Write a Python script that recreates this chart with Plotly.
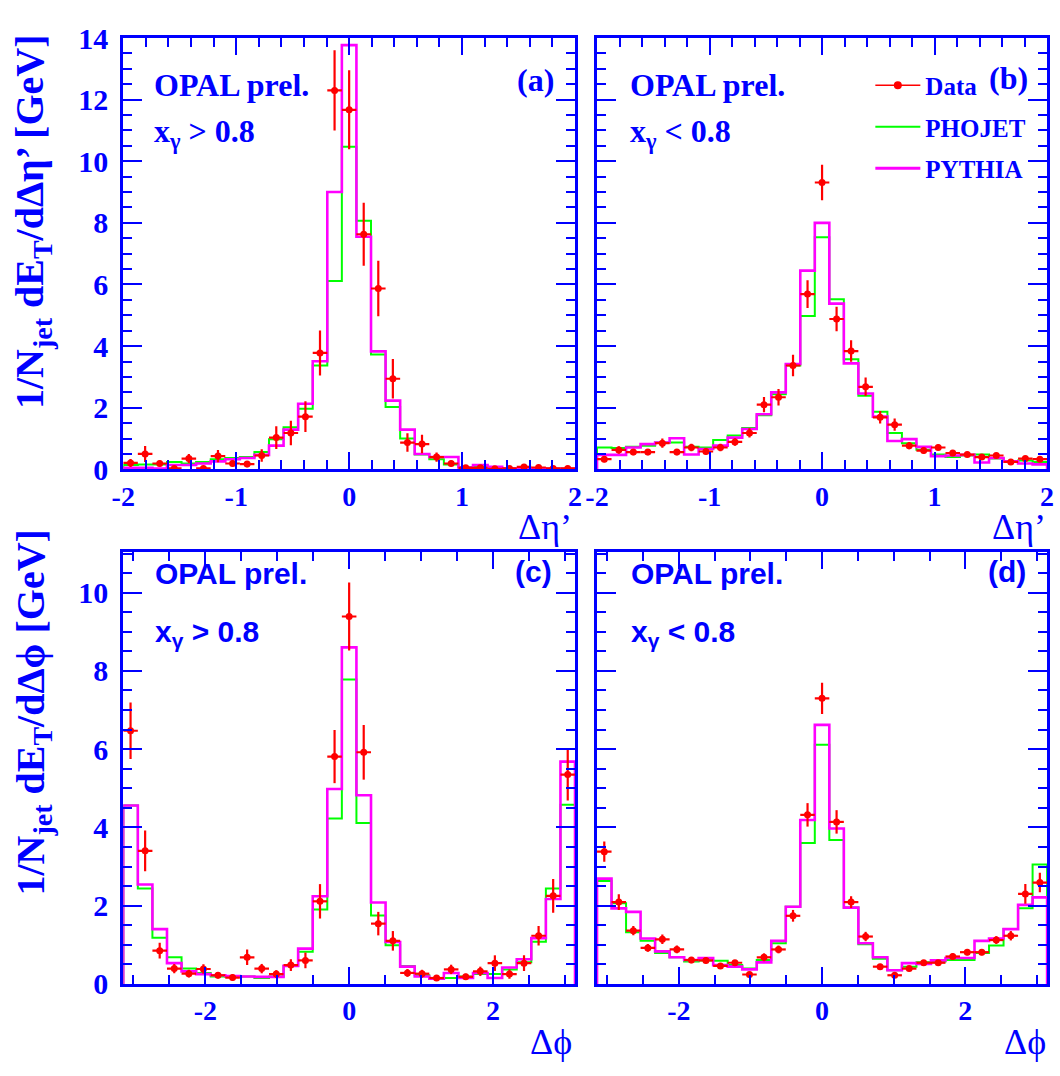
import numpy as np
import plotly.graph_objects as go

W, H = 1060, 1076
NBINS = 31
ETA_RANGE = (-2.0, 2.0)
PHI_RANGE = (-np.pi, np.pi)

# ---------------- data ----------------
# (a) delta eta', x_gamma > 0.8
a_data = [0.21, 0.50, 0.19, 0.03, 0.35, 0.03, 0.43, 0.19, 0.17, 0.45, 1.03, 1.18, 1.71, 3.78, 12.30, 11.67,
          7.63, 5.87, 2.94, 0.87, 0.82, 0.40, 0.19, 0.05, 0.05, 0.02, 0.03, 0.08, 0.06, 0.03, 0.03]
a_err = [0.13, 0.26, 0.10, 0.05, 0.15, 0.05, 0.20, 0.10, 0.10, 0.20, 0.37, 0.40, 0.50, 0.73, 1.30, 1.28,
         1.02, 0.90, 0.64, 0.30, 0.30, 0.15, 0.10, 0.05, 0.04, 0.04, 0.04, 0.04, 0.04, 0.04, 0.04]
a_phojet = [0.14, 0.16, 0.16, 0.24, 0.19, 0.24, 0.33, 0.37, 0.40, 0.56, 0.98, 1.37, 1.97, 3.37, 6.11, 10.47,
            8.07, 3.73, 2.02, 1.00, 0.48, 0.33, 0.16, 0.08, 0.10, 0.03, 0.03, 0.02, 0.02, 0.02, 0.02]
a_pythia = [0.05, 0.05, 0.03, 0.14, 0.14, 0.19, 0.26, 0.33, 0.37, 0.47, 0.77, 1.29, 2.13, 3.51, 9.00, 13.77,
            7.55, 3.83, 2.23, 1.29, 0.50, 0.40, 0.40, 0.06, 0.14, 0.08, 0.03, 0.03, 0.03, 0.02, 0.02]

# (b) delta eta', x_gamma < 0.8
b_data = [0.33, 0.63, 0.56, 0.56, 0.85, 0.56, 0.71, 0.58, 0.71, 0.89, 1.18, 2.10, 2.34, 3.37, 5.69, 9.31,
          4.88, 3.84, 2.68, 1.69, 1.45, 0.77, 0.61, 0.71, 0.53, 0.48, 0.40, 0.45, 0.24, 0.35, 0.33]
b_err = [0.10, 0.12, 0.10, 0.10, 0.15, 0.10, 0.12, 0.10, 0.12, 0.12, 0.15, 0.25, 0.27, 0.35, 0.45, 0.58,
         0.40, 0.35, 0.30, 0.20, 0.20, 0.12, 0.10, 0.10, 0.08, 0.08, 0.08, 0.08, 0.07, 0.07, 0.07]
b_phojet = [0.71, 0.69, 0.73, 0.77, 0.87, 0.87, 0.73, 0.71, 0.95, 1.10, 1.34, 1.76, 2.44, 3.37, 4.98, 7.53,
            5.52, 3.57, 2.39, 1.87, 1.18, 0.85, 0.64, 0.48, 0.40, 0.45, 0.48, 0.35, 0.26, 0.29, 0.24]
b_pythia = [0.47, 0.47, 0.71, 0.82, 0.87, 1.01, 0.48, 0.66, 0.77, 1.03, 1.31, 1.79, 2.50, 3.42, 6.45, 8.00,
            5.38, 3.44, 2.46, 1.71, 0.92, 0.98, 0.73, 0.43, 0.45, 0.47, 0.22, 0.37, 0.26, 0.19, 0.16]

# (c) delta phi, x_gamma > 0.8
c_data = [6.47, 3.40, 0.85, 0.39, 0.26, 0.38, 0.22, 0.16, 0.68, 0.39, 0.25, 0.48, 0.60, 2.11, 5.81, 9.39,
          5.92, 1.54, 1.10, 0.28, 0.26, 0.15, 0.37, 0.18, 0.32, 0.53, 0.25, 0.53, 1.23, 2.25, 5.35]
c_err = [0.72, 0.52, 0.20, 0.12, 0.10, 0.12, 0.08, 0.08, 0.20, 0.12, 0.10, 0.15, 0.20, 0.44, 0.68, 0.87,
         0.70, 0.30, 0.25, 0.10, 0.10, 0.07, 0.12, 0.08, 0.12, 0.20, 0.12, 0.20, 0.25, 0.43, 0.66]
c_phojet = [4.56, 2.44, 1.18, 0.68, 0.39, 0.28, 0.19, 0.18, 0.19, 0.15, 0.19, 0.46, 0.82, 1.90, 4.23, 7.78,
            4.11, 1.75, 0.99, 0.46, 0.22, 0.13, 0.15, 0.19, 0.25, 0.25, 0.37, 0.55, 1.08, 2.44, 4.58]
c_pythia = [4.56, 2.54, 1.40, 0.53, 0.32, 0.25, 0.22, 0.20, 0.19, 0.18, 0.18, 0.46, 0.90, 2.24, 4.98, 8.60,
            4.82, 2.08, 1.07, 0.44, 0.19, 0.13, 0.28, 0.15, 0.28, 0.15, 0.42, 0.63, 1.17, 2.17, 5.68]

# (d) delta phi, x_gamma < 0.8
d_data = [3.38, 2.09, 1.36, 0.92, 1.14, 0.88, 0.61, 0.60, 0.46, 0.54, 0.24, 0.68, 0.88, 1.74, 4.32, 7.30,
          4.14, 2.09, 1.21, 0.44, 0.22, 0.39, 0.54, 0.54, 0.70, 0.81, 0.81, 1.12, 1.23, 2.30, 2.59]
d_err = [0.26, 0.20, 0.12, 0.10, 0.12, 0.10, 0.08, 0.08, 0.07, 0.07, 0.07, 0.10, 0.10, 0.15, 0.30, 0.40,
         0.30, 0.15, 0.12, 0.07, 0.07, 0.07, 0.07, 0.07, 0.08, 0.08, 0.08, 0.10, 0.12, 0.25, 0.25]
d_phojet = [2.63, 2.06, 1.32, 1.10, 0.79, 0.68, 0.57, 0.60, 0.59, 0.48, 0.39, 0.61, 1.04, 1.97, 3.60, 6.11,
            3.68, 1.95, 1.01, 0.64, 0.35, 0.44, 0.55, 0.57, 0.61, 0.61, 0.79, 0.98, 1.40, 1.93, 3.05]
d_pythia = [2.69, 1.93, 1.84, 1.16, 0.83, 0.68, 0.61, 0.66, 0.48, 0.44, 0.37, 0.55, 1.10, 1.97, 4.19, 6.62,
            3.97, 1.95, 1.04, 0.68, 0.35, 0.53, 0.51, 0.60, 0.66, 0.66, 1.10, 1.16, 1.40, 2.02, 2.21]

eta_ticks = [-2, -1, 0, 1, 2]
eta_ticktext = ["-2", "-1", "0", "1", "2"]
phi_ticks = [-2, 0, 2]
phi_ticktext = ["-2", "0", "2"]
eta_yticks = [0, 2, 4, 6, 8, 10, 12, 14]
phi_yticks = [0, 2, 4, 6, 8, 10]

# ---------------- style ----------------
BLUE = "#0000ff"
RED = "#ff0000"
GREEN = "#00ff00"
MAGENTA = "#ff00ff"
SERIF = "Liberation Serif"
SANS = "Liberation Sans"

fig = go.Figure()


def add_panel(idx, rng, data, err, pho, pyt):
    edges = np.linspace(rng[0], rng[1], NBINS + 1)
    centers = 0.5 * (edges[:-1] + edges[1:])
    half = 0.5 * (edges[1] - edges[0])
    sx = "x" if idx == 1 else f"x{idx}"
    sy = "y" if idx == 1 else f"y{idx}"
    for vals, col, lw in ((pho, GREEN, 2.0), (pyt, MAGENTA, 2.6)):
        xs = np.concatenate([[edges[0]], edges, [edges[-1]]])
        ys = np.concatenate([[0.0], vals, [vals[-1]], [0.0]])
        fig.add_trace(go.Scatter(x=xs, y=ys, mode="lines", line=dict(color=col, width=lw, shape="hv"),
                                 xaxis=sx, yaxis=sy, showlegend=False, hoverinfo="skip",
                                 cliponaxis=False))
    fig.add_trace(go.Scatter(x=centers, y=data, mode="markers",
                             marker=dict(color=RED, size=7),
                             error_y=dict(type="data", array=err, color=RED, thickness=2.2, width=0),
                             error_x=dict(type="data", array=[half] * NBINS, color=RED, thickness=2.2, width=0),
                             xaxis=sx, yaxis=sy, showlegend=False))


add_panel(1, ETA_RANGE, a_data, a_err, a_phojet, a_pythia)
add_panel(2, ETA_RANGE, b_data, b_err, b_phojet, b_pythia)
add_panel(3, PHI_RANGE, c_data, c_err, c_phojet, c_pythia)
add_panel(4, PHI_RANGE, d_data, d_err, d_phojet, d_pythia)

# legend entries (shown in panel b)
fig.add_trace(go.Scatter(x=[None], y=[None], mode="lines+markers", name="Data",
                         line=dict(color=RED, width=1.5), marker=dict(color=RED, size=8),
                         xaxis="x2", yaxis="y2", legendgroup="g1"))
fig.add_trace(go.Scatter(x=[None], y=[None], mode="lines", name="PHOJET",
                         line=dict(color=GREEN, width=2), xaxis="x2", yaxis="y2", legendgroup="g2"))
fig.add_trace(go.Scatter(x=[None], y=[None], mode="lines", name="PYTHIA",
                         line=dict(color=MAGENTA, width=3), xaxis="x2", yaxis="y2", legendgroup="g3"))


def px_x(p):
    return p / W


def px_y(p):
    return 1 - p / H


col_l = [px_x(113.3), px_x(573.3)]
col_r = [px_x(595.7), px_x(1054.0)]
row_t = [px_y(467.7), px_y(22.7)]
row_b = [px_y(998.5), px_y(552.5)]


def xax(domain, anchor, rng, tickvals, ticktext, minor_step, show_labels=True):
    return dict(domain=domain, anchor=anchor, range=list(rng),
                tickmode="array", tickvals=tickvals, ticktext=ticktext,
                showticklabels=show_labels, ticks="inside", ticklen=17, tickwidth=1.5, tickcolor=BLUE,
                minor=dict(tickmode="array",
                           tickvals=list(np.round(np.arange(-4, 4.0001, minor_step), 4)),
                           ticks="inside", ticklen=9, tickwidth=1.5, tickcolor=BLUE),
                showline=True, linecolor=BLUE, linewidth=3, mirror="allticks",
                showgrid=False, zeroline=False,
                tickfont=dict(family=SERIF, size=28, color=BLUE, weight="bold"),
                ticklabelstandoff=0)


def yax(domain, anchor, rng, tickvals, show_labels=True):
    return dict(domain=domain, anchor=anchor, range=list(rng),
                tickmode="array", tickvals=tickvals, ticktext=[str(v) for v in tickvals],
                showticklabels=show_labels, ticks="inside", ticklen=19, tickwidth=1.5, tickcolor=BLUE,
                minor=dict(tickmode="array", tickvals=list(np.arange(0, 15.01, 0.5)),
                           ticks="inside", ticklen=9, tickwidth=1.5, tickcolor=BLUE),
                showline=True, linecolor=BLUE, linewidth=3, mirror="allticks",
                showgrid=False, zeroline=False,
                tickfont=dict(family=SERIF, size=30, color=BLUE, weight="bold"),
                ticklabelstandoff=6)


fig.update_layout(
    width=W, height=H, margin=dict(l=0, r=0, t=0, b=0),
    paper_bgcolor="white", plot_bgcolor="white",
    xaxis=xax(col_l, "y", ETA_RANGE, eta_ticks, eta_ticktext, 0.2),
    yaxis=yax(row_t, "x", (0, 14), eta_yticks),
    xaxis2=xax(col_r, "y2", ETA_RANGE, eta_ticks, eta_ticktext, 0.2),
    yaxis2=yax(row_t, "x2", (0, 14), eta_yticks, show_labels=False),
    xaxis3=xax(col_l, "y3", PHI_RANGE, phi_ticks, phi_ticktext, 0.5),
    yaxis3=yax(row_b, "x3", (0, 11.05), phi_yticks),
    xaxis4=xax(col_r, "y4", PHI_RANGE, phi_ticks, phi_ticktext, 0.5),
    yaxis4=yax(row_b, "x4", (0, 11.05), phi_yticks, show_labels=False),
    showlegend=True,
    legend=dict(x=px_x(874), y=px_y(48), xanchor="left", yanchor="top",
                bgcolor="rgba(0,0,0,0)", borderwidth=0, traceorder="grouped", tracegroupgap=6,
                itemwidth=45,
                font=dict(family=SERIF, size=25, color=BLUE, weight="bold")),
)

ann = []


def text(x, y, s, fam, size, xanchor="left", weight="bold", angle=0):
    ann.append(dict(x=px_x(x), y=px_y(y), xref="paper", yref="paper", text=s, showarrow=False,
                    xanchor=xanchor, yanchor="middle", textangle=angle,
                    font=dict(family=fam, size=size, color=BLUE, weight=weight)))


# panel texts
text(143, 71, "OPAL prel.", SERIF, 32)
text(143, 121, "x<sub>γ</sub> > 0.8", SERIF, 32)
text(554, 66, "(a)", SERIF, 32, xanchor="right")
text(627, 71, "OPAL prel.", SERIF, 32)
text(627, 121, "x<sub>γ</sub> < 0.8", SERIF, 32)
text(1037, 64, "(b)", SERIF, 32, xanchor="right")
text(144, 575, "OPAL prel.", SANS, 30)
text(144, 637, "x<sub>γ</sub> > 0.8", SANS, 30)
text(552, 573, "(c)", SANS, 30, xanchor="right")
text(628, 575, "OPAL prel.", SANS, 30)
text(628, 637, "x<sub>γ</sub> < 0.8", SANS, 30)
text(1035, 573, "(d)", SANS, 30, xanchor="right")

# axis titles
text(572, 527, "Δη’", SERIF, 36, xanchor="right", weight="normal")
text(1055, 527, "Δη’", SERIF, 36, xanchor="right", weight="normal")
text(572, 1058, "Δϕ", SERIF, 36, xanchor="right", weight="normal")
text(1055, 1058, "Δϕ", SERIF, 36, xanchor="right", weight="normal")
text(21, 212, "1/N<sub>jet</sub> dE<sub>T</sub>/dΔη’ [GeV]", SERIF, 40, xanchor="center", angle=-90)
text(21, 718, "1/N<sub>jet</sub> dE<sub>T</sub>/dΔϕ [GeV]", SERIF, 40, xanchor="center", angle=-90)

fig.update_layout(annotations=ann)
fig.write_html("out.html")
